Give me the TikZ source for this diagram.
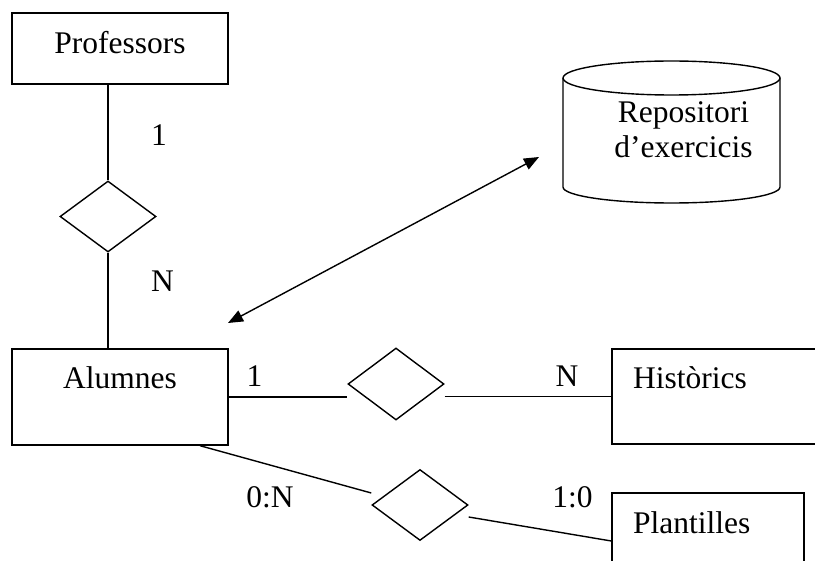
\documentclass[tikz,border=0pt]{standalone}
\usepackage{fontspec}
\setmainfont{Liberation Serif}
\usetikzlibrary{shapes.geometric,arrows.meta}

\tikzset{
  ent/.style={draw, line width=1.4pt, rectangle, inner sep=0pt},
  rel/.style={draw, line width=1.4pt, diamond, inner sep=0pt,
              minimum width=96pt, minimum height=71pt},
  lbl/.style={anchor=base, inner sep=0pt, font=\fontsize{31.5}{34}\selectfont},
  link/.style={line width=1.4pt},
  dbl/.style={line width=1.4pt,
              {Triangle[length=15pt,width=12pt]}-{Triangle[length=15pt,width=12pt]}},
}

\begin{document}
\begin{tikzpicture}[x=1pt, y=-1pt]
  \useasboundingbox (0,0) rectangle (815,561);
  \clip (0,0) rectangle (815,561);

  % entities
  \node[ent, minimum width=216pt, minimum height=71pt] (prof) at (120,48.5) {};
  \node[ent, minimum width=216pt, minimum height=96pt] (alum) at (120,397) {};
  \node[ent, minimum width=220pt, minimum height=95pt] (hist) at (722,396.5) {};
  \node[ent, minimum width=192pt, minimum height=96pt] (plant) at (708,541) {};

  \node[lbl] (profT) at (120,54) {Professors};
  \node[lbl] (alumT) at (120,389) {Alumnes};
  \node[lbl, anchor=base west] (histT) at (633,389) {Històrics};
  \node[lbl, anchor=base west] (plantT) at (633,533) {Plantilles};

  % relationships
  \node[rel] (r1) at (108,216.5) {};
  \node[rel, minimum height=72pt] (r2) at (396,384) {};
  \node[rel] (r3) at (420,505) {};

  % exercise repository (cylinder)
  \draw[line width=1.4pt] (671.5,78) ellipse [x radius=108.5pt, y radius=17pt];
  \draw[line width=1.4pt] (563,78) -- (563,187)
     arc[start angle=180, end angle=360, x radius=108.5pt, y radius=16pt]
     -- (780,78);
  \node[lbl] (repoT1) at (683.5,123) {Repositori};
  \node[lbl] (repoT2) at (683.5,158) {d’exercicis};
  \coordinate (repoEnd) at (539,157);
  \coordinate (alumEnd) at (228,323);

  % connectors
  \draw[link] (r1.north |- prof.south) -- (r1.north);
  \draw[link] (r1.south) -- (r1.south |- alum.north);
  \draw[link] (alum.east) -- (r2.west |- alum.east);
  \draw[link] (r2.east |- hist.west) -- (hist.west);
  \draw[link] ([xshift=80pt]alum.south) -- ([yshift=12pt]r3.west);
  \draw[link] ([yshift=-12pt]r3.east) -- (plant.west);
  \draw[dbl] (alumEnd) -- (repoEnd);

  % cardinalities
  \node[lbl] (c1) at (159,146) {1};
  \node[lbl] (c2) at (162.5,292) {N};
  \node[lbl] (c3) at (254.5,387) {1};
  \node[lbl] (c4) at (567,387) {N};
  \node[lbl] (c5) at (270,508) {0:N};
  \node[lbl] (c6) at (572.5,508) {1:0};
\end{tikzpicture}
\end{document}
